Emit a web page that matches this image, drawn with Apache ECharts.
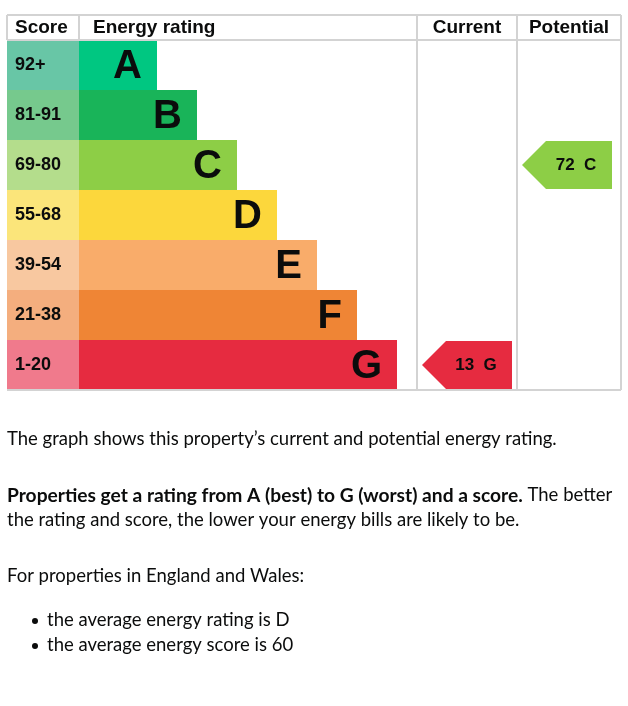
<!DOCTYPE html>
<html>
<head>
<meta charset="utf-8">
<script src="https://cdn.jsdelivr.net/npm/echarts@6/dist/echarts.min.js"></script>
<style>
  html, body { margin: 0; padding: 0; background: #fff; }
  #chart { width: 628px; height: 706px; }
</style>
</head>
<body>
<div id="chart"></div>
<script>
// rating bands, top (best) to bottom (worst)
const ratings = ['A', 'B', 'C', 'D', 'E', 'F', 'G']
const scoreRanges = ['92+', '81-91', '69-80', '55-68', '39-54', '21-38', '1-20']
const ratingBarLength = [78, 118, 158, 198, 238, 278, 318]
const current = { score: 13, rating: 'G' }
const potential = { score: 72, rating: 'C' }
const headers = ['Score', 'Energy rating', 'Current', 'Potential']

const notes = [
  'The graph shows this property\u2019s current and potential energy rating.',
  'For properties in England and Wales:'
]
const bullets = [
  'the average energy rating is D',
  'the average energy score is 60'
]

const barColors = ['#00c781', '#19b459', '#8dce46', '#fcd73c', '#f9ac6a', '#ef8535', '#e62b40']
const scoreColors = ['#68c6a6', '#76c98d', '#b4dd8c', '#fbe57a', '#f8c8a0', '#f4ae7e', '#f07a8c']

// column layout (axis units = pixels inside the grid)
const COL_SCORE = 72
const COL_CURRENT = 410
const COL_POTENTIAL = 510
const COL_END = 614
const GRID_LEFT = 7
const GRID_TOP = 40
const ROW_H = 50

const chartFont = '"Liberation Sans", Arial, sans-serif'
const textFont = 'Lato, "Noto Sans", sans-serif'
const ink = '#0b0c0c'
const lineCol = '#d3d3d3'

const chart = echarts.init(document.getElementById('chart'))

function arrowItem(params, api) {
  const x0 = api.value(0)
  const row = api.value(1)
  const left = api.coord([x0 + 5, row])
  const right = api.coord([x0 + 95, row])
  const h = api.size([0, 1])[1]
  const cy = left[1]
  const top = cy - h / 2 + 1
  const bot = cy + h / 2 - 1
  const tip = left[0]
  const body = tip + 24
  const end = right[0]
  return {
    type: 'group',
    children: [{
      type: 'polygon',
      shape: { points: [[tip, cy], [body, top], [end, top], [end, bot], [body, bot]] },
      style: { fill: barColors[row] }
    }, {
      type: 'text',
      style: {
        text: api.value(2) + '  ' + ratings[row],
        x: (body + end) / 2 - 3,
        y: cy,
        align: 'center',
        verticalAlign: 'middle',
        fill: ink,
        font: 'bold 17px ' + chartFont
      }
    }]
  }
}

const tableBottom = GRID_TOP + ROW_H * ratings.length
const colX = [0, COL_SCORE, COL_CURRENT, COL_POTENTIAL, COL_END].map(v => v + GRID_LEFT)
const line = (x1, y1, x2, y2) => ({
  type: 'line', silent: true, z: 10,
  shape: { x1, y1, x2, y2 },
  style: { stroke: lineCol, lineWidth: 2 }
})

const graphics = [
  line(colX[0], 15, colX[4], 15),
  line(colX[0], GRID_TOP, colX[4], GRID_TOP),
  line(colX[0], tableBottom, colX[4], tableBottom),
  line(colX[0], 15, colX[0], GRID_TOP),
  line(colX[1], 15, colX[1], GRID_TOP),
  line(colX[2], 15, colX[2], tableBottom),
  line(colX[3], 15, colX[3], tableBottom),
  line(colX[4], 15, colX[4], tableBottom)
]
const headerX = [colX[0] + 8, colX[1] + 14, (colX[2] + colX[3]) / 2, (colX[3] + colX[4]) / 2]
const headerAlign = ['left', 'left', 'center', 'center']
headers.forEach((t, i) => {
  graphics.push({
    type: 'text', z: 10,
    style: {
      text: t, x: headerX[i], y: 28, align: headerAlign[i], verticalAlign: 'middle',
      fill: ink, font: 'bold 19px ' + chartFont
    }
  })
})

const bodyStyle = { fill: ink, fontFamily: textFont, fontSize: 18.5 }
graphics.push({
  type: 'text',
  style: Object.assign({ text: notes[0], x: 7, y: 439, verticalAlign: 'middle' }, bodyStyle)
})
graphics.push({
  type: 'text',
  style: Object.assign({
    text: '{b|Properties get a rating from A (best) to G (worst) and a score.} The better\nthe rating and score, the lower your energy bills are likely to be.',
    x: 7, y: 483, verticalAlign: 'top', lineHeight: 25,
    rich: { b: { fontWeight: 'bold', fontFamily: textFont, fontSize: 19.2, lineHeight: 25 } }
  }, bodyStyle)
})
graphics.push({
  type: 'text',
  style: Object.assign({ text: notes[1], x: 7, y: 576, verticalAlign: 'middle' }, bodyStyle)
})
bullets.forEach((b, i) => {
  const y = 620 + i * 25
  graphics.push({
    type: 'circle', shape: { cx: 35, cy: y + 1, r: 3 }, style: { fill: ink }
  })
  graphics.push({
    type: 'text',
    style: Object.assign({ text: b, x: 47, y: y, verticalAlign: 'middle' }, bodyStyle)
  })
})

chart.setOption({
  animation: false,
  grid: { left: GRID_LEFT, top: GRID_TOP, right: 628 - GRID_LEFT - COL_END, height: ROW_H * ratings.length },
  xAxis: { type: 'value', min: 0, max: COL_END, show: false },
  yAxis: { type: 'category', data: ratings, inverse: true, show: false },
  series: [{
    name: 'score',
    type: 'bar',
    stack: 'row',
    barWidth: '100%',
    barCategoryGap: 0,
    data: scoreRanges.map((s, i) => ({ value: COL_SCORE, itemStyle: { color: scoreColors[i] } })),
    label: {
      show: true,
      position: 'insideLeft',
      distance: 8,
      formatter: p => scoreRanges[p.dataIndex],
      color: ink,
      fontFamily: chartFont,
      fontWeight: 'bold',
      fontSize: 18
    }
  }, {
    name: 'rating',
    type: 'bar',
    stack: 'row',
    barWidth: '100%',
    data: ratingBarLength.map((v, i) => ({ value: v, itemStyle: { color: barColors[i] } })),
    label: {
      show: true,
      position: 'insideRight',
      distance: 15,
      offset: [0, 2],
      formatter: p => ratings[p.dataIndex],
      color: ink,
      fontFamily: chartFont,
      fontWeight: 'bold',
      fontSize: 40
    }
  }, {
    name: 'arrows',
    type: 'custom',
    renderItem: arrowItem,
    data: [
      [COL_CURRENT, ratings.indexOf(current.rating), current.score],
      [COL_POTENTIAL, ratings.indexOf(potential.rating), potential.score]
    ],
    z: 5
  }],
  graphic: graphics
})
</script>
</body>
</html>
